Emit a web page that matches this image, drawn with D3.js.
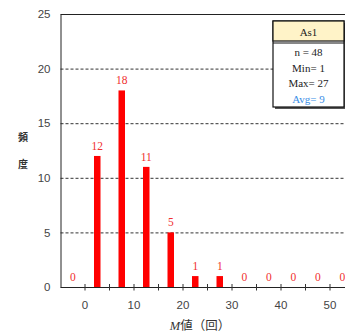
<!DOCTYPE html>
<html>
<head>
<meta charset="utf-8">
<script src="https://cdn.jsdelivr.net/npm/d3@7/dist/d3.min.js"></script>
<style>
  html, body { margin: 0; padding: 0; background: #fff; }
  svg { display: block; }
</style>
</head>
<body>
<div id="chart"></div>
<script>
// Histogram of M values (bin width 5), bin centres and counts
const binCenters = [-2.5, 2.5, 7.5, 12.5, 17.5, 22.5, 27.5, 32.5, 37.5, 42.5, 47.5, 52.5];
const counts     = [0, 12, 18, 11, 5, 1, 1, 0, 0, 0, 0, 0];
const yTicks = [0, 5, 10, 15, 20, 25];
const xLabelTicks = [0, 10, 20, 30, 40, 50];
const xMinorTicks = [0, 5, 10, 15, 20, 25, 30, 35, 40, 45, 50];
const statsTitle = "As1";
const statsLines = ["n = 48", "Min= 1", "Max= 27", "Avg= 9"];

const W = 345, H = 334;
const svg = d3.select("#chart").append("svg").attr("width", W).attr("height", H);

const x = d3.scaleLinear().domain([-5, 55]).range([60.5, 354.5]);
const y = d3.scaleLinear().domain([0, 25]).range([287, 14]);

// dashed gridlines
svg.append("g").selectAll("line").data(yTicks.filter(v => v > 0 && v < 25)).join("line")
  .attr("x1", x(-5)).attr("x2", W)
  .attr("y1", d => y(d) + 0.5).attr("y2", d => y(d) + 0.5)
  .attr("stroke", "#333").attr("stroke-width", 1).attr("stroke-dasharray", "3,2");

// frame: top edge
svg.append("line").attr("x1", x(-5)).attr("x2", W).attr("y1", y(25) + 0.5).attr("y2", y(25) + 0.5)
  .attr("stroke", "#222").attr("stroke-width", 1);

// bars
const barW = 6.5;
svg.append("g").selectAll("rect").data(binCenters.map((c, i) => ({c, v: counts[i]}))).join("rect")
  .attr("x", d => x(d.c) - barW / 2).attr("width", barW)
  .attr("y", d => y(d.v)).attr("height", d => y(0) - y(d.v))
  .attr("fill", "#ff0000");

// value labels
svg.append("g").selectAll("text").data(binCenters.map((c, i) => ({c, v: counts[i]}))).join("text")
  .attr("x", d => x(d.c)).attr("y", d => y(d.v) - 6)
  .attr("text-anchor", "middle")
  .attr("font-family", "'Liberation Serif', 'DejaVu Serif', serif")
  .attr("font-size", 11.5).attr("fill", "#f03030")
  .text(d => d.v);

// y axis
const yAxis = d3.axisLeft(y).tickValues(yTicks).tickSize(0).tickPadding(10);
const gy = svg.append("g").attr("transform", `translate(${x(-5)},0)`).call(yAxis);
gy.select(".domain").attr("stroke", "#222");
gy.selectAll("text").attr("font-family", "'Liberation Sans', Arial, sans-serif")
  .attr("font-size", 11.5).attr("fill", "#444");

// x axis: baseline, crossing ticks every 5, labels every 10
const gx = svg.append("g").attr("transform", `translate(0,${y(0)})`);
gx.append("line").attr("x1", x(-5)).attr("x2", W).attr("y1", 0.5).attr("y2", 0.5)
  .attr("stroke", "#222").attr("stroke-width", 1.2);
gx.selectAll("line.tk").data(xMinorTicks).join("line").attr("class", "tk")
  .attr("x1", d => x(d)).attr("x2", d => x(d)).attr("y1", -3).attr("y2", 3.5)
  .attr("stroke", "#333").attr("stroke-width", 1);
gx.selectAll("text").data(xLabelTicks).join("text")
  .attr("x", d => x(d)).attr("y", 22)
  .attr("text-anchor", "middle")
  .attr("font-family", "'Liberation Sans', Arial, sans-serif")
  .attr("font-size", 11.5).attr("fill", "#444")
  .text(d => d);

// axis titles
const xt = svg.append("text").attr("x", 200).attr("y", 330).attr("text-anchor", "middle")
  .attr("font-family", "'Noto Sans CJK JP', sans-serif").attr("font-size", 12.5).attr("fill", "#333");
xt.append("tspan").attr("font-style", "italic").attr("font-family", "'Liberation Serif', serif").text("M");
xt.append("tspan").text("値（回）");

const yt = svg.append("g").attr("font-family", "'Noto Sans CJK JP', sans-serif")
  .attr("font-size", 10).attr("font-weight", "bold").attr("fill", "#333").attr("text-anchor", "middle");
yt.append("text").attr("x", 23).attr("y", 141).text("頻");
yt.append("text").attr("x", 23).attr("y", 168).text("度");

// stats box
const bx = 273, by = 21, bw = 71, bh = 86, hh = 20;
const box = svg.append("g");
box.append("rect").attr("x", bx + 2).attr("y", by + 2).attr("width", bw).attr("height", bh).attr("fill", "#555");
box.append("rect").attr("x", bx).attr("y", by).attr("width", bw).attr("height", bh)
  .attr("fill", "#fff").attr("stroke", "#111").attr("stroke-width", 1.2);
box.append("rect").attr("x", bx).attr("y", by).attr("width", bw).attr("height", hh)
  .attr("fill", "#fff3c8").attr("stroke", "#111").attr("stroke-width", 1.2);
box.append("line").attr("x1", bx).attr("x2", bx + bw).attr("y1", by + hh + 2).attr("y2", by + hh + 2)
  .attr("stroke", "#111").attr("stroke-width", 1);
box.append("text").attr("x", bx + bw / 2).attr("y", by + 15).attr("text-anchor", "middle")
  .attr("font-family", "'Liberation Serif', serif").attr("font-size", 11).attr("fill", "#222")
  .text(statsTitle);
box.selectAll("text.st").data(statsLines).join("text").attr("class", "st")
  .attr("x", bx + bw / 2).attr("y", (d, i) => by + 35 + i * 15.5)
  .attr("text-anchor", "middle")
  .attr("font-family", "'Liberation Serif', serif").attr("font-size", 11)
  .attr("fill", (d, i) => i === 3 ? "#3a8ee6" : "#222")
  .text(d => d);
</script>
</body>
</html>
